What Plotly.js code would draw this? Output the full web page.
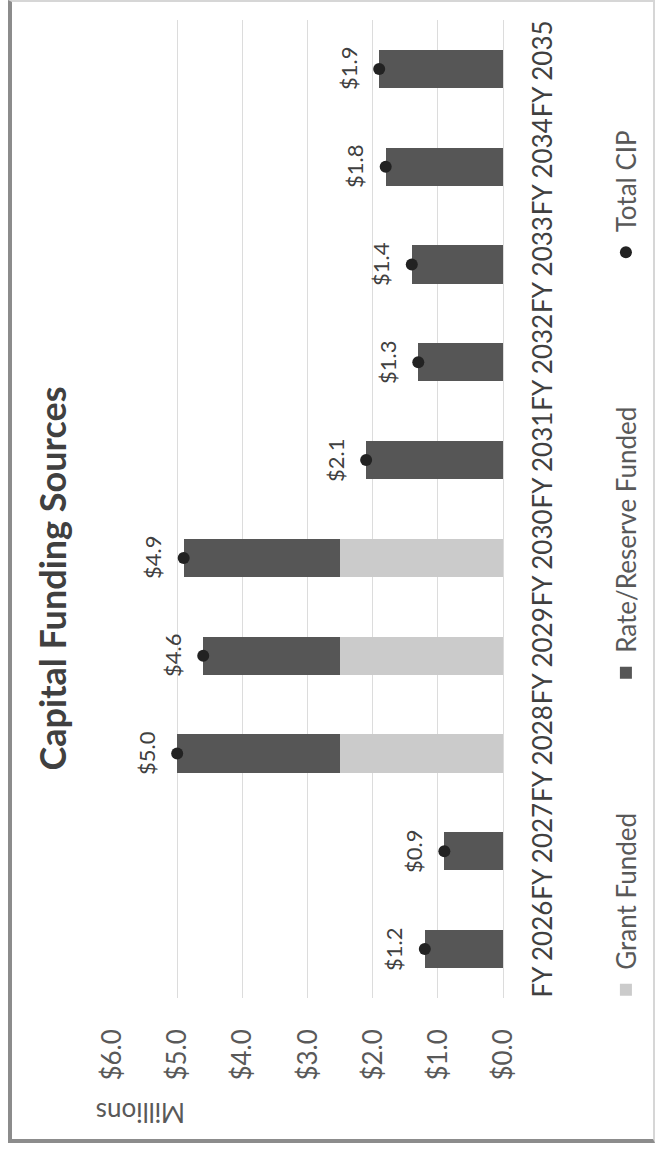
<!DOCTYPE html>
<html>
<head>
<meta charset="utf-8">
<script src="https://cdn.plot.ly/plotly-3.0.1.min.js"></script>
<style>
  html, body { margin:0; padding:0; background:#fff; width:663px; height:1157px; overflow:hidden; }
  #frame { position:absolute; left:8px; top:0px; width:641px; height:1137px;
           border-left:4px solid #8c8c8c; border-bottom:4px solid #8c8c8c;
           border-top:2px solid #d6d6d6; border-right:2px solid #d6d6d6; }
  #chart { position:absolute; left:0; top:0; width:1157px; height:663px; }
</style>
</head>
<body>
<div id="frame"></div>
<div id="chart"></div>
<script>
// ---- data ----
const categories = ["FY 2026","FY 2027","FY 2028","FY 2029","FY 2030","FY 2031","FY 2032","FY 2033","FY 2034","FY 2035"];
const grantFunded = [0, 0, 2.5, 2.5, 2.5, 0, 0, 0, 0, 0];
const rateReserveFunded = [1.2, 0.9, 2.5, 2.1, 2.4, 2.1, 1.3, 1.4, 1.8, 1.9];
const totalCIP = [1.2, 0.9, 5.0, 4.6, 4.9, 2.1, 1.3, 1.4, 1.8, 1.9];
const yTickValues = [0, 1, 2, 3, 4, 5, 6];
const yTickLabels = ["$0.0", "$1.0", "$2.0", "$3.0", "$4.0", "$5.0", "$6.0"];
const chartTitle = "Capital Funding Sources";
const unitLabel = "Millions";

const FONT = "Lato, 'Open Sans', 'Noto Sans', sans-serif";

const traces = [
  { type:'bar', name:'Grant Funded', x:categories, y:grantFunded,
    marker:{color:'#cbcbcb'}, legend:'legend', hoverinfo:'skip' },
  { type:'bar', name:'Rate/Reserve Funded', x:categories, y:rateReserveFunded,
    marker:{color:'#565656'}, legend:'legend2', hoverinfo:'skip' },
  { type:'scatter', mode:'markers', name:'Total CIP', x:categories, y:totalCIP,
    marker:{color:'#222222', size:12}, legend:'legend3', hoverinfo:'skip' }
];

const annotations = categories.map((c, i) => ({
  x: c, y: totalCIP[i], xref:'x', yref:'y', showarrow:false,
  text: '$' + totalCIP[i].toFixed(1), yshift: 31, yanchor:'middle',
  font:{family:FONT, size:22, color:'#404040'}
}));
annotations.push({
  xref:'paper', yref:'y', x:-0.1176, y:5.57, showarrow:false, textangle:-90,
  text: unitLabel, xanchor:'center', yanchor:'middle',
  font:{family:FONT, size:26, color:'#595959'}
});

const legendBase = {orientation:'h', yanchor:'middle', xanchor:'left', y:-0.3146,
  bgcolor:'rgba(0,0,0,0)', font:{family:FONT, size:26, color:'#595959'}};

const layout = {
  width:1157, height:663,
  margin:{l:159, r:20, t:112, b:160, autoexpand:false},
  paper_bgcolor:'rgba(0,0,0,0)', plot_bgcolor:'rgba(0,0,0,0)',
  barmode:'stack', bargap:0.61,
  title:{text:chartTitle, xref:'container', x:0.5, xanchor:'center',
         yref:'container', y:0.92, yanchor:'middle',
         font:{family:FONT, size:36, weight:700, color:'#404040'}},
  xaxis:{type:'category', range:[-0.5, 9.5], tickangle:0, showgrid:false,
         ticks:'outside', ticklen:17, tickcolor:'rgba(0,0,0,0)',
         tickfont:{family:FONT, size:26, color:'#404040'}, showline:false, zeroline:false},
  yaxis:{range:[0,6], tickmode:'array', tickvals:yTickValues, ticktext:yTickLabels,
         showgrid:true, gridcolor:'#dcdcdc', gridwidth:1, zeroline:true, zerolinecolor:'#dcdcdc',
         ticks:'outside', ticklen:25, tickcolor:'rgba(0,0,0,0)',
         tickfont:{family:FONT, size:26, color:'#595959'}, showline:false},
  legend: Object.assign({}, legendBase, {x:-0.012}),
  legend2: Object.assign({}, legendBase, {x:0.312}),
  legend3: Object.assign({}, legendBase, {x:0.742}),
  annotations: annotations,
  showlegend:true
};

Plotly.newPlot('chart', traces, layout, {staticPlot:true, displayModeBar:false}).then(() => {
  const el = document.getElementById('chart');
  el.style.transformOrigin = '0 0';
  el.style.transform = 'translate(0px, 1157px) rotate(-90deg)';
});
</script>
</body>
</html>
